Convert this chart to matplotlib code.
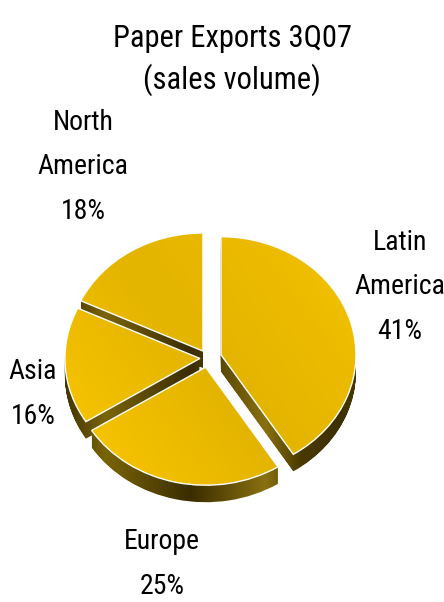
import numpy as np
import matplotlib
matplotlib.use("Agg")
from matplotlib import pyplot as plt
from matplotlib.path import Path
from matplotlib.patches import PathPatch
from matplotlib.colors import LinearSegmentedColormap

regions = ["Latin\nAmerica", "Europe", "Asia", "North\nAmerica"]
shares = [41, 25, 16, 18]
explode = [0.10, 0.08, 0.06, 0.07]

plt.rcParams['font.family'] = ['Liberation Sans Narrow', 'Roboto Condensed',
                               'Archivo Narrow', 'Liberation Sans', 'DejaVu Sans']

W, H = 444, 602
fig = plt.figure(figsize=(W / 100, H / 100), dpi=100)
ax = fig.add_axes([0, 0, 1, 1])

# pie seen from above at a slant: 1 unit = 135 px across, 118 px down
ux, uy = 135.0, 118.0
cx, cy = 208 / ux, (H - 358) / uy
depth = 17 / uy

def pie_at(dy):
    w, _ = ax.pie(shares, explode=explode, startangle=90, counterclock=False,
                  center=(cx, cy - dy), radius=1.0)
    for p in w:
        p.set_visible(False)
    return w

# side walls: the top shape swept downwards
layers = np.linspace(depth, 0, 18)
side_paths = []
for d in layers:
    for p in pie_at(d):
        side_paths.append(p.get_path())
side_clip = PathPatch(Path.make_compound_path(*side_paths), fc="none", ec="none")
ax.add_patch(side_clip)

x0, x1 = 39, 377
side_stops = [(39, "#3a2d00"), (70, "#4a3a00"), (105, "#7a6408"), (190, "#3a2d00"),
              (265, "#8a7010"), (300, "#4a3a00"), (340, "#3d3000"), (377, "#5a4800")]
side_cmap = LinearSegmentedColormap.from_list(
    "side", [((p - x0) / (x1 - x0), c) for p, c in side_stops])
grad = np.tile(np.linspace(0, 1, 256), (64, 1))
ext = (x0 / ux, x1 / ux, cy - 1.2 - depth, cy + 1.2)
im = ax.imshow(grad, cmap=side_cmap, extent=ext, aspect="auto", zorder=1,
               interpolation="bilinear")
im.set_clip_path(side_clip)

# top faces
tops = pie_at(0)
top_clip = PathPatch(Path.make_compound_path(*[p.get_path() for p in tops]),
                     fc="none", ec="none")
ax.add_patch(top_clip)
top_cmap = LinearSegmentedColormap.from_list(
    "top", ["#ffcc00", "#f2c000", "#e3b400", "#ecbb00", "#fbc900"])
gx, gy = np.meshgrid(np.linspace(0, 1, 256), np.linspace(0, 1, 256))
tgrad = (gx * 0.6 + (1 - gy) * 0.4)
im2 = ax.imshow(tgrad, cmap=top_cmap, extent=ext, aspect="auto", zorder=2,
                interpolation="bilinear", origin="upper")
im2.set_clip_path(top_clip)

edges, _ = ax.pie(shares, explode=explode, startangle=90, counterclock=False,
                  center=(cx, cy), radius=1.0,
                  wedgeprops=dict(facecolor="none", edgecolor="white", linewidth=1.0))
for p in edges:
    p.set_zorder(3)

ax.set_aspect("auto")
ax.set_xlim(0, W / ux)
ax.set_ylim(0, H / uy)
ax.axis("off")

# labels (pixel positions of text centres)
label_pos = [(400, 287), (162, 564), (33, 394), (83, 167)]
for name, val, (px, py) in zip(regions, shares, label_pos):
    fig.text(px / W, 1 - py / H, f"{name}\n{val}%", ha="center", va="center",
             fontsize=20, linespacing=1.85, color="black")

fig.text(232 / W, 1 - 60 / H, "Paper Exports 3Q07\n(sales volume)", ha="center",
         va="center", fontsize=22, linespacing=1.4, color="black")

fig.savefig("out.png", dpi=100)
